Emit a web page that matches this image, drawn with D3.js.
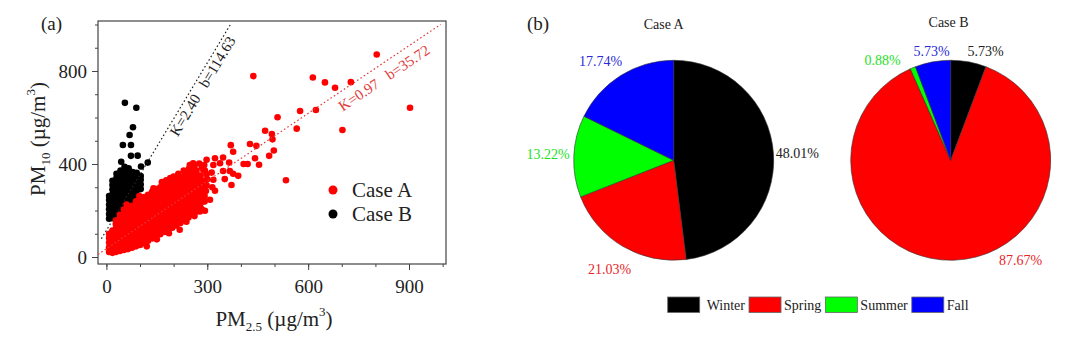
<!DOCTYPE html>
<html>
<head>
<meta charset="utf-8">
<script src="https://cdn.jsdelivr.net/npm/d3@7"></script>
<style>
  body { margin: 0; background: #fff; }
  text { font-family: "Liberation Serif", "Times New Roman", serif; fill: #222; }
</style>
</head>
<body>
<svg id="chart" width="1076" height="344"></svg>
<script>
// ---------- data ----------
// Case A: scattered points outside the dense cloud
const caseAPoints = [
  [218,117],[238,367],[258,403],[258,382],[248,396],[288,375],[293,372],[313,363],[347,370],[367,370],
  [377,358],[392,349],[352,335],[372,310],[318,332],[315,300],[323,285],[308,246],[292,239],[278,196],
  [273,210],[293,199],[298,418],[291,396],[323,425],[338,403],[318,396],[347,428],[365,406],[370,481],
  [377,453],[408,400],[420,400],[427,486],[446,478],[442,425],[454,397],[472,543],[492,529],[494,506],
  [498,458],[484,435],[509,601],[534,330],[566,552],[576,628],[623,632],[437,778],[614,772],[650,751],
  [680,728],[727,752],[804,871],[903,642],[702,546],
  // ragged edges of the cloud
  [165,322],[178,330],[200,346],[214,358],[230,372],[246,380],[262,392],[276,402],[284,386],[298,356],
  [300,334],[298,308],[296,284],[292,262],[120,46],[150,76],[186,102],[238,152],[262,176],[284,204],
  [60,226],[98,262],[140,296],[190,340]
];
// Case A: dense cloud, listed column by column as [PM2.5, [PM10 ...]]
const caseACloud = [
  [8,  [22,42,62,82,100]],
  [18, [18,38,58,78,96,114]],
  [28, [22,42,62,82,102,122,142,158]],
  [40, [26,46,66,86,106,126,146,166,182]],
  [52, [30,50,70,90,110,130,150,170,190,204]],
  [64, [34,54,74,94,114,134,154,174,194,212]],
  [76, [40,60,80,100,120,140,160,180,200,220]],
  [88, [46,66,86,106,126,146,166,186,206,226,240]],
  [100,[52,72,92,112,132,152,172,192,212,232,250]],
  [112,[60,80,100,120,140,160,180,200,220,240,258]],
  [124,[70,90,110,130,150,170,190,210,230,250,268]],
  [136,[80,100,120,140,160,180,200,220,240,260,280]],
  [148,[90,110,130,150,170,190,210,230,250,270,292]],
  [160,[98,118,138,158,178,198,218,238,258,278,300]],
  [172,[108,128,148,168,188,208,228,248,268,288,310]],
  [184,[116,136,156,176,196,216,236,256,276,296,318]],
  [196,[126,146,166,186,206,226,246,266,286,306,324]],
  [208,[136,156,176,196,216,236,256,276,296,316,334]],
  [220,[146,166,186,206,226,246,266,286,306,326,344]],
  [232,[158,178,198,218,238,258,278,298,318,338,352]],
  [244,[170,190,210,230,250,270,290,310,330,348,362]],
  [256,[182,202,222,242,262,282,302,322,342,360]],
  [268,[196,216,236,256,276,296,316,336,356,372]],
  [280,[212,232,252,272,292,312,332,350]],
  [290,[240,262,284,306,328]]
];
// Case B
const caseBPoints = [
  [55,663],[89,642],[79,558],[69,525],[49,482],[73,482],[73,435],[93,436],[44,410],[123,406],[103,389]
];
const caseBCloud = [
  [8,  [165,185,205,225,245,262]],
  [18, [170,190,210,230,250,270,290,310,328]],
  [30, [180,200,220,240,260,280,300,320,340,358]],
  [42, [195,215,235,255,275,295,315,335,355,372]],
  [54, [210,230,250,270,290,310,330,350,370,388]],
  [66, [225,245,265,285,305,325,345,365,382]],
  [78, [245,265,285,305,325,345,365]],
  [90, [265,285,305,325,345,362]],
  [102,[292,312,332,348]]
];

// fitted lines: Case A, Case B
const fitNames = ['Case A', 'Case B'];
const fitK = [0.97, 2.40];
const fitB = [35.72, 114.63];
const fitFrom = [-25, -15];

const xTickLabels = [0, 300, 600, 900];
const yTickLabels = [0, 400, 800];

const seasons = ['Winter', 'Spring', 'Summer', 'Fall'];
const shareA = [48.01, 21.03, 13.22, 17.74];
const shareB = [5.73, 87.67, 0.88, 5.73];

// ---------- layout ----------
const seasonColor = ['#000000', '#ff0000', '#00ff00', '#0000ff'];
const labelColor = ['#222222', '#e8262a', '#1fe01f', '#2b2bd6'];
const svg = d3.select('#chart');

const expand = cloud => cloud.flatMap(([x, ys]) => ys.map(v => [x, v]));
const redData = expand(caseACloud).concat(caseAPoints);
const blackData = expand(caseBCloud).concat(caseBPoints);

// ---------- panel (a): scatter ----------
const x = d3.scaleLinear().domain([-25, 1010]).range([98, 446]);
const y = d3.scaleLinear().domain([-30, 1015]).range([264, 21]);

svg.append('rect')
  .attr('x', 98).attr('y', 21).attr('width', 348).attr('height', 243)
  .attr('fill', 'none').attr('stroke', '#444').attr('stroke-width', 1.2);

// minor + major ticks
const xMinor = svg.append('g').attr('transform', 'translate(0,264)')
  .call(d3.axisBottom(x).tickValues(d3.range(0, 1001, 100)).tickSize(3).tickFormat(''));
const xMajor = svg.append('g').attr('transform', 'translate(0,264)')
  .call(d3.axisBottom(x).tickValues(xTickLabels).tickSize(6).tickPadding(10));
const yMinor = svg.append('g').attr('transform', 'translate(98,0)')
  .call(d3.axisLeft(y).tickValues(d3.range(0, 1001, 100)).tickSize(3).tickFormat(''));
const yMajor = svg.append('g').attr('transform', 'translate(98,0)')
  .call(d3.axisLeft(y).tickValues(yTickLabels).tickSize(6).tickPadding(5));
[xMinor, xMajor, yMinor, yMajor].forEach(g => {
  g.select('.domain').remove();
  g.selectAll('line').attr('stroke', '#444');
  g.selectAll('text').attr('font-size', 19).attr('fill', '#222')
    .attr('font-family', '"Liberation Serif","Times New Roman",serif');
});

// points: Case B first, Case A over it
svg.append('g').selectAll('circle').data(blackData).join('circle')
  .attr('cx', d => x(d[0])).attr('cy', d => y(d[1])).attr('r', 3.3).attr('fill', '#000');
svg.append('g').selectAll('circle').data(redData).join('circle')
  .attr('cx', d => x(d[0])).attr('cy', d => y(d[1])).attr('r', 3.3).attr('fill', '#ff0000');

// fitted lines with labels
const fitColor = ['#e23a3a', '#222'];
const labelAt = [673, 179];   // where along the line the label starts (PM2.5)
const labelGap = [18, 13];
fitK.forEach((k, i) => {
  const b = fitB[i];
  const x0 = fitFrom[i], x1 = Math.min(1000, (1000 - b) / k);
  svg.append('line')
    .attr('x1', x(x0)).attr('y1', y(k * x0 + b))
    .attr('x2', x(x1)).attr('y2', y(k * x1 + b))
    .attr('stroke', fitColor[i]).attr('stroke-width', 1.2)
    .attr('stroke-dasharray', '1.6,2.4');
  const ang = Math.atan2(y(k * x1 + b) - y(k * x0 + b), x(x1) - x(x0)) * 180 / Math.PI;
  const xs = labelAt[i];
  const t = svg.append('text')
    .attr('transform', `translate(${x(xs)},${y(k * xs + b)}) rotate(${ang})`)
    .attr('dy', labelGap[i]).attr('font-size', 15).style('fill', fitColor[i]);
  t.append('tspan').text(`K=${k.toFixed(2)}`);
  t.append('tspan').attr('dx', 11).text(`b=${b.toFixed(2)}`);
});

// scatter legend
[['#ff0000', fitNames[0], 190], ['#000', fitNames[1], 214]].forEach(([c, name, cy]) => {
  svg.append('circle').attr('cx', 333).attr('cy', cy).attr('r', 4.5).attr('fill', c);
  svg.append('text').attr('x', 352).attr('y', cy + 7).attr('font-size', 21).text(name);
});

// axis titles
const xt = svg.append('text').attr('x', 274).attr('y', 326).attr('text-anchor', 'middle').attr('font-size', 21);
xt.append('tspan').text('PM');
xt.append('tspan').attr('font-size', 13).attr('dy', 5).text('2.5');
xt.append('tspan').attr('dy', -5).text(' (µg/m');
xt.append('tspan').attr('font-size', 13).attr('dy', -10).text('3');
xt.append('tspan').attr('dy', 10).text(')');

const yt = svg.append('text').attr('transform', 'translate(45,139) rotate(-90)')
  .attr('text-anchor', 'middle').attr('font-size', 21);
yt.append('tspan').text('PM');
yt.append('tspan').attr('font-size', 13).attr('dy', 5).text('10');
yt.append('tspan').attr('dy', -5).text(' (µg/m');
yt.append('tspan').attr('font-size', 13).attr('dy', -10).text('3');
yt.append('tspan').attr('dy', 10).text(')');

svg.append('text').attr('x', 41).attr('y', 30).attr('font-size', 19).text('(a)');
svg.append('text').attr('x', 527).attr('y', 30).attr('font-size', 19).text('(b)');

// ---------- panel (b): pies ----------
const pie = d3.pie().sort(null).value(d => d);
const arc = d3.arc().innerRadius(0).outerRadius(100);

// label offsets from the pie centre (baseline point) and anchors
const pieLayout = [
  { title: 'Case A', values: shareA, cx: 673.7, cy: 160.3, titleX: 663.7, titleY: 29,
    labels: [[102, -2, 'start'], [-64, 114, 'middle'], [-104, -1, 'end'], [-73, -94, 'middle']] },
  { title: 'Case B', values: shareB, cx: 950.7, cy: 160.3, titleX: 948.6, titleY: 26.5,
    labels: [[35, -104, 'middle'], [70, 105, 'middle'], [-68, -95, 'middle'], [-19, -104, 'middle']] }
];

pieLayout.forEach(p => {
  const g = svg.append('g').attr('transform', `translate(${p.cx},${p.cy})`);
  g.selectAll('path').data(pie(p.values)).join('path')
    .attr('d', arc)
    .attr('fill', (d, i) => seasonColor[i])
    .attr('stroke', '#333').attr('stroke-width', 0.6);
  g.selectAll('text.lab').data(p.values).join('text')
    .attr('class', 'lab')
    .attr('x', (d, i) => p.labels[i][0]).attr('y', (d, i) => p.labels[i][1])
    .attr('text-anchor', (d, i) => p.labels[i][2])
    .attr('font-size', 14)
    .style('fill', (d, i) => labelColor[i])
    .text(d => d.toFixed(2) + '%');
  svg.append('text').attr('x', p.titleX).attr('y', p.titleY)
    .attr('text-anchor', 'middle').attr('font-size', 14).text(p.title);
});

// season legend
let lx = 667.7;
seasons.forEach((s, i) => {
  svg.append('rect').attr('x', lx).attr('y', 297).attr('width', 32).attr('height', 15.5)
    .attr('fill', seasonColor[i]).attr('stroke', '#666').attr('stroke-width', 0.8);
  lx += 32 + (i === 0 ? 7 : 3);
  const t = svg.append('text').attr('x', lx).attr('y', 310).attr('font-size', 14).text(s);
  lx += t.node().getComputedTextLength() + 4;
});
</script>
</body>
</html>
